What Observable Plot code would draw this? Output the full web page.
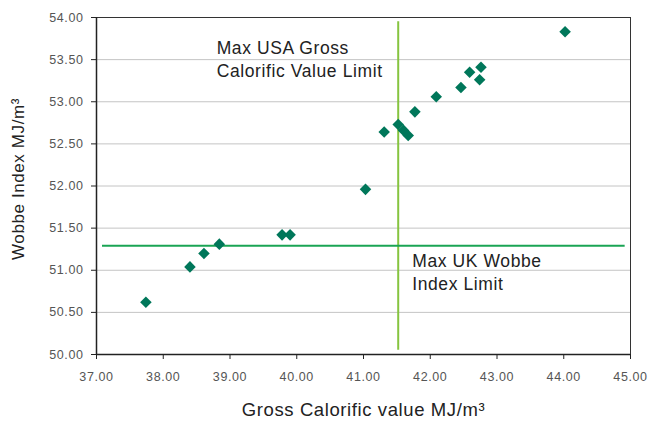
<!DOCTYPE html>
<html><head><meta charset="utf-8">
<script src="https://cdn.jsdelivr.net/npm/d3@7"></script>
<script src="https://cdn.jsdelivr.net/npm/@observablehq/plot@0.6"></script>
<style>
body{margin:0;background:#fff;}
svg text{letter-spacing:0.6px;}
</style></head><body><div id="chart"></div>
<script>
// Data
const gcv =   [37.74, 38.40, 38.61, 38.84, 39.78, 39.90, 41.03, 41.31, 41.52, 41.60, 41.67, 41.77, 42.09, 42.46, 42.59, 42.74, 42.76, 44.02];
const wobbe = [50.62, 51.04, 51.20, 51.31, 51.42, 51.42, 51.96, 52.64, 52.73, 52.66, 52.60, 52.88, 53.06, 53.17, 53.35, 53.26, 53.41, 53.83];
const xTicks = [37, 38, 39, 40, 41, 42, 43, 44, 45];
const yTicks = [50, 50.5, 51, 51.5, 52, 52.5, 53, 53.5, 54];
const gridY = [50.5, 51, 51.5, 52, 52.5, 53, 53.5];
const usaLimitGCV = [41.52];
const usaLimitSpan = [50.05, 53.95];
const ukLimitWobbe = [51.29];
const ukLimitSpan = [37.09, 44.92];
const annoText = ["Max USA Gross\nCalorific Value Limit", "Max UK Wobbe\nIndex Limit"];
const annoX = [38.80, 41.73];
const annoY = [53.76, 51.23];
const xTitle = "Gross Calorific value MJ/m³";
const yTitle = "Wobbe Index MJ/m³";

const points = gcv.map((x, i) => ({x, y: wobbe[i]}));
const annos = annoText.map((t, i) => ({t, x: annoX[i], y: annoY[i]}));
const fmt = d3.format(".2f");

const chart = Plot.plot({
  width: 648, height: 421,
  marginLeft: 96, marginRight: 18, marginTop: 17, marginBottom: 67,
  style: {fontFamily: "'Liberation Sans', Arial, sans-serif", background: "#fff"},
  x: {domain: [37, 45]},
  y: {domain: [50, 54]},
  marks: [
    Plot.ruleY(gridY, {stroke: "#c4c4c4", strokeWidth: 1}),
    Plot.frame({stroke: "#333", strokeWidth: 1}),
    Plot.ruleX([37], {stroke: "#222", strokeWidth: 1.5}),
    Plot.ruleY([50], {stroke: "#222", strokeWidth: 1.5}),
    Plot.axisX({ticks: xTicks, tickFormat: fmt, tickSize: 5, tickPadding: 13, fontSize: 12.5, stroke: "#222", fill: "#555", label: null}),
    Plot.axisY({ticks: yTicks, tickFormat: fmt, tickSize: 5, tickPadding: 8, fontSize: 12.5, stroke: "#222", fill: "#555", label: null}),
    Plot.ruleX(usaLimitGCV, {y1: usaLimitSpan[0], y2: usaLimitSpan[1], stroke: "#86c440", strokeWidth: 2}),
    Plot.ruleY(ukLimitWobbe, {x1: ukLimitSpan[0], x2: ukLimitSpan[1], stroke: "#1aa454", strokeWidth: 2}),
    Plot.dot(points, {x: "x", y: "y", symbol: "diamond2", r: 5.2, fill: "#00775a", stroke: null}),
    Plot.text(annos, {x: "x", y: "y", text: "t", textAnchor: "start", lineAnchor: "top", lineHeight: 1.3, fontSize: 17.5, fill: "#222"}),
    Plot.text([xTitle], {frameAnchor: "bottom", dy: 56, fontSize: 18.5, fill: "#222", lineAnchor: "middle", textAnchor: "middle"}),
    Plot.text([yTitle], {frameAnchor: "left", dx: -78, dy: -7, rotate: -90, fontSize: 17, fill: "#222", lineAnchor: "middle", textAnchor: "middle"})
  ]
});
const textGroups = chart.querySelectorAll('g[aria-label="text"]');
if (textGroups[0]) textGroups[0].style.letterSpacing = "1.2px";
if (textGroups[1]) textGroups[1].style.letterSpacing = "0.8px";
if (textGroups[2]) textGroups[2].style.letterSpacing = "0.6px";
document.getElementById("chart").append(chart);
</script></body></html>
